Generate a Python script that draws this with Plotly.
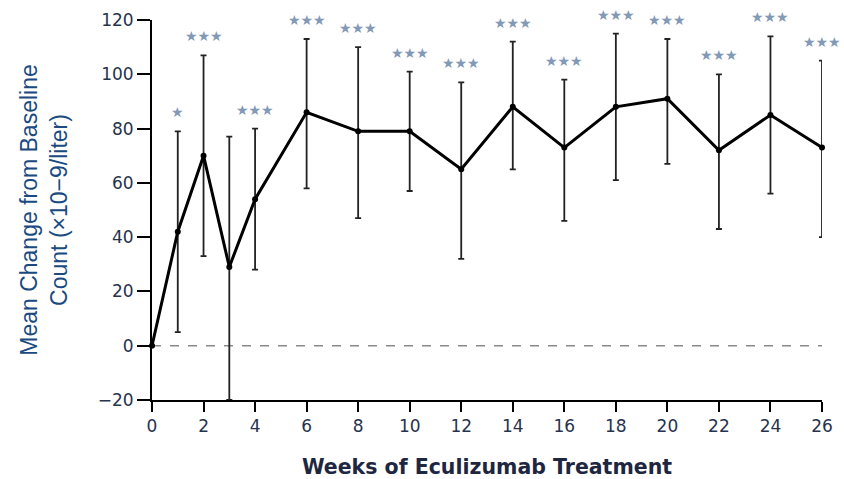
import plotly.graph_objects as go

weeks = [0, 1, 2, 3, 4, 6, 8, 10, 12, 14, 16, 18, 20, 22, 24, 26]
mean_change = [0, 42, 70, 29, 54, 86, 79, 79, 65, 88, 73, 88, 91, 72, 85, 73]
upper_ci = [0, 79, 107, 77, 80, 113, 110, 101, 97, 112, 98, 115, 113, 100, 114, 105]
lower_ci = [0, 5, 33, -20, 28, 58, 47, 57, 32, 65, 46, 61, 67, 43, 56, 40]
significance = ["", "*", "***", "", "***", "***", "***", "***", "***", "***", "***", "***", "***", "***", "***", "***"]
x_ticks = list(range(0, 27, 2))
y_ticks = [-20, 0, 20, 40, 60, 80, 100, 120]

err_plus = [u - m for u, m in zip(upper_ci, mean_change)]
err_minus = [m - l for m, l in zip(mean_change, lower_ci)]

fig = go.Figure()

# dashed zero reference line
fig.add_trace(go.Scatter(
    x=[weeks[0], weeks[-1]], y=[0, 0], mode="lines",
    line=dict(color="#8a8a8a", width=1.5, dash="dash"),
    hoverinfo="skip", showlegend=False, cliponaxis=False))

fig.add_trace(go.Scatter(
    x=weeks, y=mean_change, mode="lines+markers",
    line=dict(color="black", width=3),
    marker=dict(color="black", size=6),
    error_y=dict(type="data", symmetric=False, array=err_plus, arrayminus=err_minus,
                 color="#222222", thickness=1.8, width=3),
    showlegend=False, cliponaxis=False))

star_map = {"*": "★", "***": "★★★"}
for w, u, s in zip(weeks, upper_ci, significance):
    if s:
        fig.add_annotation(x=w, y=u, text=star_map[s], showarrow=False,
                           yshift=19, font=dict(size=14, color="#8399b5",
                                                family="DejaVu Sans"))

tick_font = dict(family="DejaVu Sans", size=17, color="#27324d")

fig.update_xaxes(
    range=[0, 26], tickvals=x_ticks, ticktext=[str(t) for t in x_ticks],
    showline=True, linecolor="black", linewidth=2, ticks="outside",
    ticklen=10, tickwidth=2, tickcolor="black", showgrid=False, zeroline=False,
    tickfont=tick_font, automargin=False,
    title=dict(text="Weeks of Eculizumab Treatment", standoff=24,
               font=dict(family="DejaVu Sans", size=20.5, color="#1e2640", weight="bold")))

fig.update_yaxes(
    range=[-20, 120], tickvals=y_ticks, ticktext=["\u221220"] + [str(t) for t in y_ticks[1:]],
    showline=True, linecolor="black", linewidth=2, ticks="outside",
    ticklen=13, tickwidth=2, tickcolor="black", showgrid=False, zeroline=False,
    tickfont=tick_font, automargin=False,
    title=dict(text="Mean Change from Baseline<br>Count (×10\u22129/liter)", standoff=24,
               font=dict(family="Liberation Sans", size=23, color="#1a4a80")))

fig.update_layout(
    width=844, height=479,
    margin=dict(l=152, r=22, t=20, b=79),
    paper_bgcolor="white", plot_bgcolor="white")

fig.write_html("out.html")
